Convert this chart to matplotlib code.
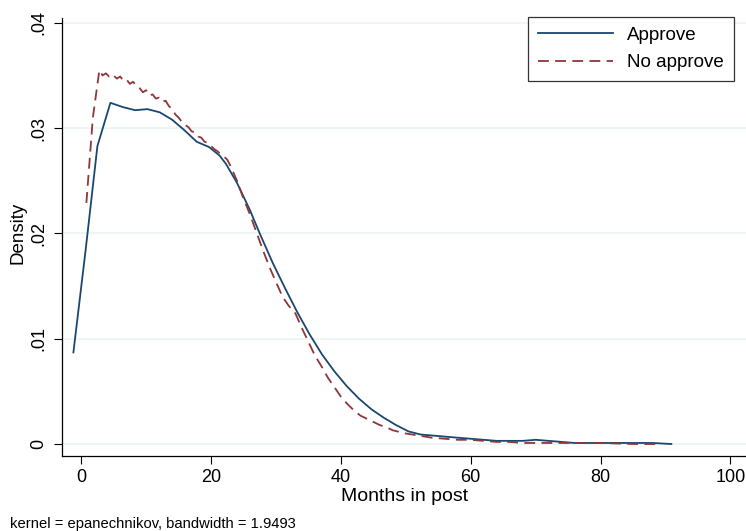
import matplotlib
matplotlib.use("Agg")
import matplotlib.pyplot as plt

plt.rcParams['font.family'] = ['Liberation Sans', 'DejaVu Sans']

approve_x = [-1.2, 0.7, 2.5, 4.5, 6.4, 8.3, 10.2, 12.1, 14.0, 15.9, 17.8, 19.7, 21.3, 22.3,
             24.0, 26.0, 27.5, 29.5, 31.4, 33.3, 35.2, 37.1, 39.0, 40.9, 42.8, 44.7, 46.6,
             48.5, 50.4, 52.3, 54.2, 56.1, 58.0, 60.0, 62.0, 64.0, 66.0, 68.0, 70.0, 72.0,
             74.0, 76.0, 78.0, 80.0, 82.0, 84.0, 86.0, 88.0, 90.9]
approve_y = [0.0087, 0.0185, 0.0283, 0.0324, 0.0320, 0.0317, 0.0318, 0.0315, 0.0308, 0.0298,
             0.0287, 0.0282, 0.0274, 0.0266, 0.0248, 0.0222, 0.0200, 0.0172, 0.0148, 0.0125,
             0.0104, 0.0085, 0.0069, 0.0055, 0.0043, 0.0033, 0.0025, 0.0018, 0.0012, 0.0009,
             0.0008, 0.0007, 0.0006, 0.0005, 0.0004, 0.0003, 0.0003, 0.0003, 0.0004, 0.0003,
             0.0002, 0.0001, 0.0001, 0.0001, 0.0001, 0.0001, 0.0001, 0.0001, 0.0000]

noapp_x = [0.8, 1.8, 2.8, 3.3, 3.8, 4.3, 4.8, 5.5, 6.0, 6.5, 7.0, 7.5, 8.0, 8.5, 9.0, 9.5,
           10.0, 10.5, 11.0, 11.5, 12.0, 12.5, 13.0, 13.5, 14.0, 14.5, 15.0, 15.5, 16.0, 16.5,
           17.0, 17.5, 18.0, 18.5, 19.0, 19.5, 20.0, 20.5, 21.0, 21.5, 22.0, 22.5, 23.0, 24.0,
           25.0, 26.0, 27.0, 28.0, 29.0, 30.0, 31.0, 32.0, 33.0, 34.0, 35.0, 36.0, 37.0, 38.0,
           39.0, 40.0, 41.0, 42.0, 43.0, 44.0, 45.0, 46.0, 47.0, 48.0, 50.0, 52.0, 54.0, 56.0,
           58.0, 60.0, 62.0, 64.0, 66.0, 68.0, 70.0, 72.0, 75.0, 80.0, 85.0, 89.0]
noapp_y = [0.0229, 0.0310, 0.0355, 0.0350, 0.0352, 0.0349, 0.0351, 0.0347, 0.0349, 0.0345,
           0.0346, 0.0342, 0.0344, 0.0340, 0.0338, 0.0334, 0.0336, 0.0331, 0.0332, 0.0328,
           0.0329, 0.0325, 0.0326, 0.0321, 0.0318, 0.0313, 0.0310, 0.0306, 0.0303, 0.0301,
           0.0297, 0.0296, 0.0292, 0.0291, 0.0287, 0.0286, 0.0283, 0.0280, 0.0278, 0.0275,
           0.0273, 0.0270, 0.0264, 0.0250, 0.0233, 0.0218, 0.0201, 0.0184, 0.0168, 0.0154,
           0.0140, 0.0131, 0.0124, 0.0110, 0.0097, 0.0084, 0.0074, 0.0063, 0.0054, 0.0045,
           0.0038, 0.0032, 0.0027, 0.0024, 0.0021, 0.0018, 0.0016, 0.0013, 0.0010, 0.0008,
           0.0006, 0.0005, 0.0004, 0.0004, 0.0003, 0.0002, 0.0002, 0.0001, 0.0001, 0.0001,
           0.0001, 0.0001, 0.0000, 0.0000]

x_ticks = [0, 20, 40, 60, 80, 100]
y_ticks = [0, 0.01, 0.02, 0.03, 0.04]
y_tick_labels = ["0", ".01", ".02", ".03", ".04"]
series_labels = ["Approve", "No approve"]
note = "kernel = epanechnikov, bandwidth = 1.9493"

fig = plt.figure(figsize=(7.46, 5.31), dpi=100)
ax = fig.add_axes([0.0835, 0.1412, 0.9165, 0.8248])

for y in y_ticks:
    ax.axhline(y, color="#eaf2f3", lw=1.1, zorder=0)

ax.plot(approve_x, approve_y, color="#1a476f", lw=1.3, label=series_labels[0])
ax.plot(noapp_x, noapp_y, color="#90353b", lw=1.3, dashes=(6, 3.5), label=series_labels[1])

ax.set_xlim(-2.91, 102.4)
ax.set_ylim(-0.00114, 0.04045)
ax.set_xticks(x_ticks)
ax.set_yticks(y_ticks)
ax.set_yticklabels(y_tick_labels, rotation=90, va="center")
ax.tick_params(axis="both", direction="out", length=5.5, width=0.8, labelsize=13)
ax.tick_params(axis="x", pad=4)
ax.tick_params(axis="y", pad=5.5)
for s in ["top", "right"]:
    ax.spines[s].set_visible(False)
for s in ["left", "bottom"]:
    ax.spines[s].set_linewidth(0.9)

ax.set_xlabel("Months in post", fontsize=14, labelpad=1)
ax.set_ylabel("Density", fontsize=13.5)
ax.yaxis.set_label_coords(-0.052, 0.51)

leg = ax.legend(loc="upper right", bbox_to_anchor=(0.982, 1.003), fontsize=13.5, frameon=True,
                fancybox=False, edgecolor="black", handlelength=4.0, borderpad=0.53,
                labelspacing=0.56, handletextpad=0.74, borderaxespad=0)
leg.get_frame().set_linewidth(0.9)

fig.text(0.0134, 0.006, note, fontsize=10.6, va="baseline")

fig.savefig("out.png", dpi=100, facecolor="white")
